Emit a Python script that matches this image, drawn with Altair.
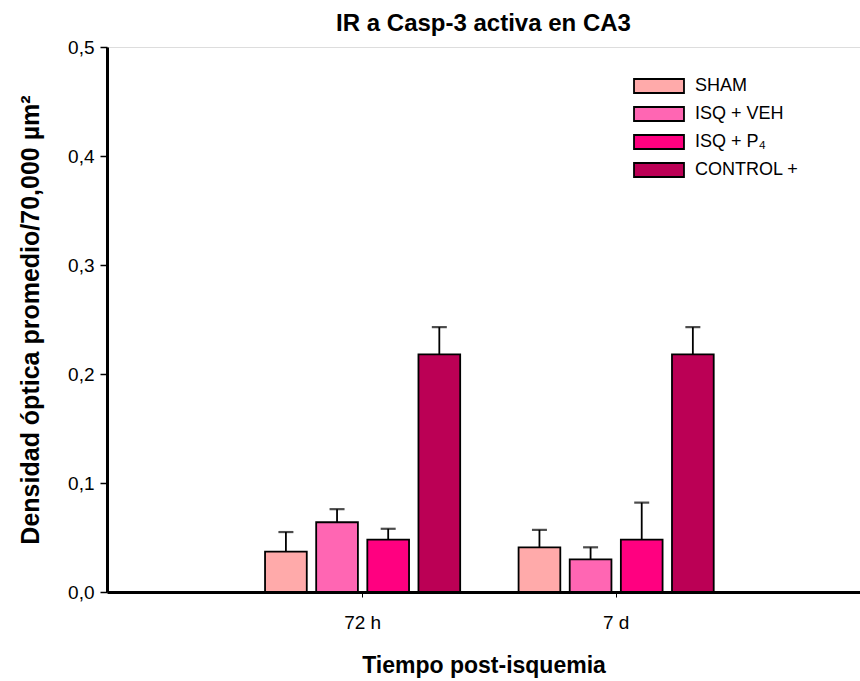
import altair as alt
import pandas as pd

groups = ["72 h", "7 d"]
treatments = ["SHAM", "ISQ + VEH", "ISQ + P₄", "CONTROL +"]
means_72h = [0.037, 0.064, 0.048, 0.218]
errs_72h = [0.018, 0.012, 0.010, 0.025]
means_7d = [0.041, 0.030, 0.048, 0.218]
errs_7d = [0.016, 0.011, 0.034, 0.025]
colors = ["#FFAAAA", "#FF66B3", "#FF0080", "#BB0055"]

rows = []
for g, ms, es in [(groups[0], means_72h, errs_72h), (groups[1], means_7d, errs_7d)]:
    for t, m, e in zip(treatments, ms, es):
        rows.append({"tiempo": g, "grupo": t, "media": m, "sup": m + e})
df = pd.DataFrame(rows)

FONT = "Liberation Sans"

x_scale = alt.Scale(paddingInner=0.19, paddingOuter=0.58, align=0.52)
xo_scale = alt.Scale(paddingInner=0.184, paddingOuter=0.1)
y_scale = alt.Scale(domain=[0, 0.5], nice=False)

x_axis = alt.Axis(
    title="Tiempo post-isquemia",
    labelAngle=0,
    labelFont=FONT,
    labelFontSize=19,
    labelColor="black",
    labelPadding=16,
    tickSize=5,
    tickColor="black",
    tickWidth=1,
    domainColor="black",
    domainWidth=3,
    grid=False,
    titleFont=FONT,
    titleFontSize=23,
    titleFontWeight="bold",
    titleColor="black",
    titlePadding=22,
)

y_axis = alt.Axis(
    title="Densidad óptica promedio/70,000 µm²",
    values=[0, 0.1, 0.2, 0.3, 0.4, 0.5],
    labelExpr="replace(format(datum.value, '.1f'), '.', ',')",
    labelFont=FONT,
    labelFontSize=19,
    labelColor="black",
    labelPadding=6,
    tickSize=7,
    tickColor="black",
    tickWidth=1.5,
    domainColor="black",
    domainWidth=3,
    grid=False,
    titleFont=FONT,
    titleFontSize=25,
    titleFontWeight="bold",
    titleColor="black",
    titleX=-77,
    titleBaseline="middle",
)

xenc = alt.X("tiempo:N", sort=groups, scale=x_scale, axis=x_axis)
xoenc = alt.XOffset("grupo:N", sort=treatments, scale=xo_scale)

base = alt.Chart(df)

bars = base.mark_bar(stroke="black", strokeWidth=1.8).encode(
    x=xenc,
    xOffset=xoenc,
    y=alt.Y("media:Q", scale=y_scale, axis=y_axis),
    color=alt.Color(
        "grupo:N",
        sort=treatments,
        scale=alt.Scale(domain=treatments, range=colors),
        legend=alt.Legend(
            title=None,
            orient="none",
            legendX=543,
            legendY=30,
            symbolType="M-3.57,-1H3.57V1H-3.57Z",
            symbolSize=196,
            symbolStrokeColor="black",
            symbolStrokeWidth=1.8,
            symbolOpacity=1,
            labelFont=FONT,
            labelFontSize=18,
            labelColor="black",
            labelOffset=27,
            rowPadding=6,
        ),
    ),
)

rules = base.mark_rule(color="black", strokeWidth=1.8).encode(
    x=xenc,
    xOffset=xoenc,
    y=alt.Y("media:Q", scale=y_scale, axis=y_axis),
    y2="sup:Q",
)

caps = base.mark_tick(color="black", thickness=2.2, size=15, orient="horizontal").encode(
    x=xenc,
    xOffset=xoenc,
    y=alt.Y("sup:Q", scale=y_scale, axis=y_axis),
)

chart = (
    alt.layer(rules, bars, caps)
    .properties(
        width=753,
        height=545,
        autosize="none",
        padding={"left": 107, "top": 47, "right": 0, "bottom": 89},
        title=alt.TitleParams(
            "IR a Casp-3 activa en CA3",
            font=FONT,
            fontSize=24,
            fontWeight="bold",
            color="black",
            anchor="middle",
            offset=2,
        ),
    )
    .configure_axis(grid=False)
    .configure_view(stroke=None)
    .configure(background="white")
)

chart.save("out.html", embed_options={"renderer": "svg", "actions": False})
